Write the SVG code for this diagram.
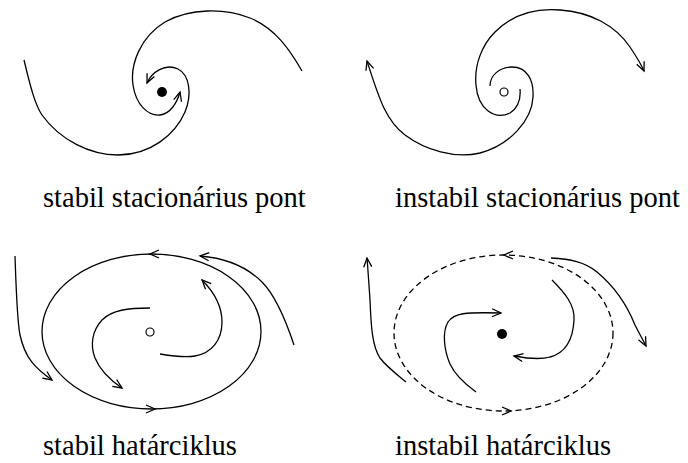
<svg xmlns="http://www.w3.org/2000/svg" width="688" height="463" viewBox="0 0 688 463">
<style>
.c{fill:none;stroke:#000;stroke-width:1.3}
.a{fill:none;stroke:none;marker-end:url(#arr)}
.d{stroke-dasharray:6,4}
.t{font-family:"Liberation Serif","Times New Roman",serif;font-size:28.5px;fill:#000}
</style>
<defs>
<marker id="arr" markerUnits="userSpaceOnUse" viewBox="-11 -6 13 12" markerWidth="13" markerHeight="12" refX="0" refY="0" orient="auto">
<path d="M-9,-4 L0,0 L-9,4" fill="none" stroke="#000" stroke-width="1.3"/>
</marker>
</defs>
<g id="stable-point">
<circle cx="162" cy="92" r="5" fill="#000"/>
</g>
<g id="unstable-point">
<circle cx="504" cy="92" r="4" fill="none" stroke="#000" stroke-width="1.2"/>
</g>
<g id="stable-cycle">
<ellipse class="c" cx="151.5" cy="331.5" rx="109.5" ry="77.5"/>
<circle cx="150" cy="332" r="4" fill="none" stroke="#000" stroke-width="1.2"/>
</g>
<g id="unstable-cycle">
<ellipse class="c d" cx="503.5" cy="333" rx="109.5" ry="78"/>
<circle cx="502" cy="334" r="5" fill="#000"/>
</g>
<g id="connectors">
<path class="c" marker-end="url(#arr)" d="M24,60 C30,85 35,105 42,115 C60,140 90,155 118,155 C150,155 175,135 185,112 C192,95 190,75 178,69 C165,63 152,72 147,83"/>
<path class="c" marker-end="url(#arr)" d="M302,71 C290,50 275,28 250,18 C225,8 190,8 165,22 C140,37 130,65 133,85 C136,105 148,116 160,115 C170,114 177,103 180,92"/>
<path class="c" marker-end="url(#arr)" d="M520,89 C521,100 518,108 510,113 C495,120 478,110 476,85 C474,65 482,45 495,32 C512,15 535,8 560,10 C590,12 615,25 630,47 C636,56 641,64 644,71"/>
<path class="c" marker-end="url(#arr)" d="M490,86 C490,75 500,67 512,67 C527,67 534,80 533,97 C532,120 510,145 480,153 C455,159 425,150 405,135 C385,120 378,95 367,61"/>
<path class="a" d="M160,254 L150,254"/>
<path class="a" d="M145,409 L155,409"/>
<path class="c" marker-end="url(#arr)" d="M15,256 C16,285 17,320 20,335 C25,358 35,368 52,380"/>
<path class="c" marker-end="url(#arr)" d="M294,345 C285,318 275,295 262,282 C245,265 225,258 200,256"/>
<path class="c" marker-end="url(#arr)" d="M150,308 C128,308 112,310 102,320 C92,331 90,345 95,358 C100,370 110,380 122,388"/>
<path class="c" marker-end="url(#arr)" d="M160,354 C172,356 185,358 195,356 C212,353 222,340 222,322 C222,305 212,290 202,280"/>
<path class="a" d="M514,255 L504,255"/>
<path class="a" d="M501,411 L511,411"/>
<path class="c" marker-end="url(#arr)" d="M406,382 C395,373 386,366 380,358 C372,346 371,325 370,300 C369,285 368,270 367,258"/>
<path class="c" marker-end="url(#arr)" d="M551,258 C570,259 585,262 597,272 C615,287 627,305 635,325 C639,333 643,340 646,346"/>
<path class="c" marker-end="url(#arr)" d="M476,392 C465,384 455,375 450,364 C444,350 442,332 448,322 C454,313 465,312 501,313"/>
<path class="c" marker-end="url(#arr)" d="M552,280 C565,293 575,305 574,320 C573,340 565,353 550,357 C540,360 525,358 514,356"/>
</g>
<g id="labels">
<text class="t" x="43" y="207">stabil stacionárius pont</text>
<text class="t" x="395" y="207">instabil stacionárius pont</text>
<text class="t" x="43" y="455">stabil határciklus</text>
<text class="t" x="395" y="455">instabil határciklus</text>
</g>
</svg>
